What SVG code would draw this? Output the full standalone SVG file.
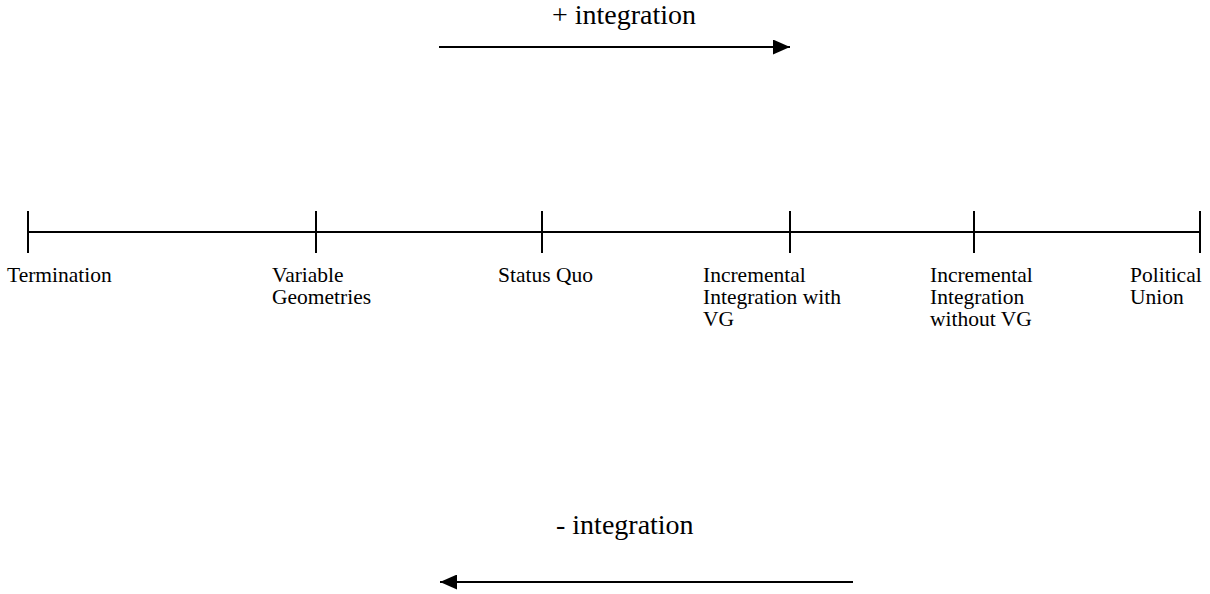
<svg xmlns="http://www.w3.org/2000/svg" width="1210" height="594" viewBox="0 0 1210 594">
<style>
text{font-family:"Liberation Serif","Times New Roman",serif;fill:#000}
.lbl{font-size:21.5px}
.big{font-size:28px}
.ln{stroke:#000;stroke-width:2;fill:none}
</style>
<defs>
<marker id="ah" markerWidth="17" markerHeight="15" refX="17" refY="7.5" orient="auto" markerUnits="userSpaceOnUse">
<path d="M0,0 L17,7.5 L0,15 Z" fill="#000"/>
</marker>
</defs>
<rect width="1210" height="594" fill="#fff"/>
<g id="connectors">
<line class="ln" x1="439" y1="47" x2="790" y2="47" marker-end="url(#ah)"/>
<line class="ln" x1="853" y1="582" x2="440" y2="582" marker-end="url(#ah)"/>
<line class="ln" x1="28" y1="232" x2="1200" y2="232"/>
</g>
<g id="plus"><text class="big" x="552" y="24">+ integration</text></g>
<g id="minus"><text class="big" x="556" y="534">- integration</text></g>
<g id="n1"><line class="ln" x1="28" y1="211" x2="28" y2="253"/><text class="lbl" x="7" y="282">Termination</text></g>
<g id="n2"><line class="ln" x1="316" y1="211" x2="316" y2="253"/><text class="lbl" x="272" y="282">Variable<tspan x="272" dy="22">Geometries</tspan></text></g>
<g id="n3"><line class="ln" x1="542" y1="211" x2="542" y2="253"/><text class="lbl" x="498" y="282">Status Quo</text></g>
<g id="n4"><line class="ln" x1="790" y1="211" x2="790" y2="253"/><text class="lbl" x="703" y="282">Incremental<tspan x="703" dy="22">Integration with</tspan><tspan x="703" dy="22">VG</tspan></text></g>
<g id="n5"><line class="ln" x1="974" y1="211" x2="974" y2="253"/><text class="lbl" x="930" y="282">Incremental<tspan x="930" dy="22">Integration</tspan><tspan x="930" dy="22">without VG</tspan></text></g>
<g id="n6"><line class="ln" x1="1200" y1="211" x2="1200" y2="253"/><text class="lbl" x="1130" y="282">Political<tspan x="1130" dy="22">Union</tspan></text></g>
</svg>
